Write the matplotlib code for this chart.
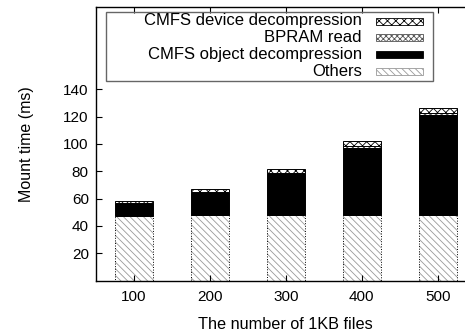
import matplotlib
matplotlib.use("Agg")
import matplotlib.pyplot as plt
from matplotlib.patches import Rectangle
import numpy as np

# Mount time breakdown (ms) per number of 1KB files
file_counts = ['100', '200', '300', '400', '500']
others = [47, 48, 48, 48, 48]
object_decomp = [9.5, 16, 30, 49, 73.5]
bpram_read = [0.5, 1, 1, 1.5, 1.5]
device_decomp = [1, 2, 3, 3.5, 3.5]

series_labels = ['CMFS device decompression', 'BPRAM read',
                 'CMFS object decompression', 'Others']

plt.rcParams['font.family'] = ['Liberation Sans', 'DejaVu Sans']
plt.rcParams['hatch.linewidth'] = 0.6

fig = plt.figure(figsize=(4.65, 3.36), dpi=100)
ax = fig.add_axes([0.206, 0.165, 0.817, 0.813])

x = np.arange(len(file_counts))
w = 0.5
others = np.array(others)
object_decomp = np.array(object_decomp)
bpram_read = np.array(bpram_read)
device_decomp = np.array(device_decomp)

b1 = others
b2 = b1 + object_decomp
b3 = b2 + bpram_read

# Others: gray diagonal hatch
ax.bar(x, others, w, color='white', edgecolor='#999999', hatch='\\\\\\\\\\', linewidth=0)
ax.bar(x, others, w, fill=False, edgecolor='black', linewidth=0.7, linestyle=':')
# object decompression: solid black
ax.bar(x, object_decomp, w, bottom=b1, color='black', edgecolor='black', linewidth=0.7)
# BPRAM read: dense gray cross hatch
ax.bar(x, bpram_read, w, bottom=b2, color='white', edgecolor='#555555', hatch='xxxxxx', linewidth=0)
ax.bar(x, bpram_read, w, bottom=b2, fill=False, edgecolor='black', linewidth=0.7)
# device decompression: black cross hatch
ax.bar(x, device_decomp, w, bottom=b3, color='white', edgecolor='black', hatch='xxxx', linewidth=0.7)

ax.set_xlim(-0.5, 4.5)
ax.set_ylim(0, 200)
ax.set_xticks(x)
ax.set_xticklabels(file_counts)
ax.set_yticks([20, 40, 60, 80, 100, 120, 140])
ax.tick_params(direction='in', top=True, right=True, length=4, width=0.8,
               labelsize=11, pad=7)
ax.tick_params(axis='y', pad=5)
for s in ax.spines.values():
    s.set_linewidth(1.0)

ax.set_xlabel('The number of 1KB files', fontsize=11.7, labelpad=9)
ax.set_ylabel('Mount time (ms)', fontsize=11.5, labelpad=21)

# gnuplot style legend box, text right-aligned, key samples on the right
W, H = 465.0, 336.0
def fx(px):
    return px / W
def fy(py):
    return 1 - py / H

fig.patches.append(Rectangle((fx(105.7), fy(81)), fx(432.7) - fx(105.7), fy(12.3) - fy(81),
                             transform=fig.transFigure, fill=False,
                             edgecolor='#666666', linewidth=1.0))
key_styles = [
    dict(facecolor='white', edgecolor='black', hatch='xxxx'),
    dict(facecolor='white', edgecolor='#555555', hatch='xxxxxx'),
    dict(facecolor='black', edgecolor='black'),
    dict(facecolor='white', edgecolor='#999999', hatch='\\\\\\\\\\'),
]
rows_y = [21, 37.7, 54.4, 71.1]
for label, st, yy in zip(series_labels, key_styles, rows_y):
    fig.text(fx(361.7), fy(yy), label, ha='right', va='center', fontsize=12)
    fig.patches.append(Rectangle((fx(376), fy(yy + 3.5)), fx(422.7) - fx(376), fy(yy - 3.5) - fy(yy + 3.5),
                                 transform=fig.transFigure, linewidth=0.6, **st))

fig.savefig('out.png', dpi=100)
